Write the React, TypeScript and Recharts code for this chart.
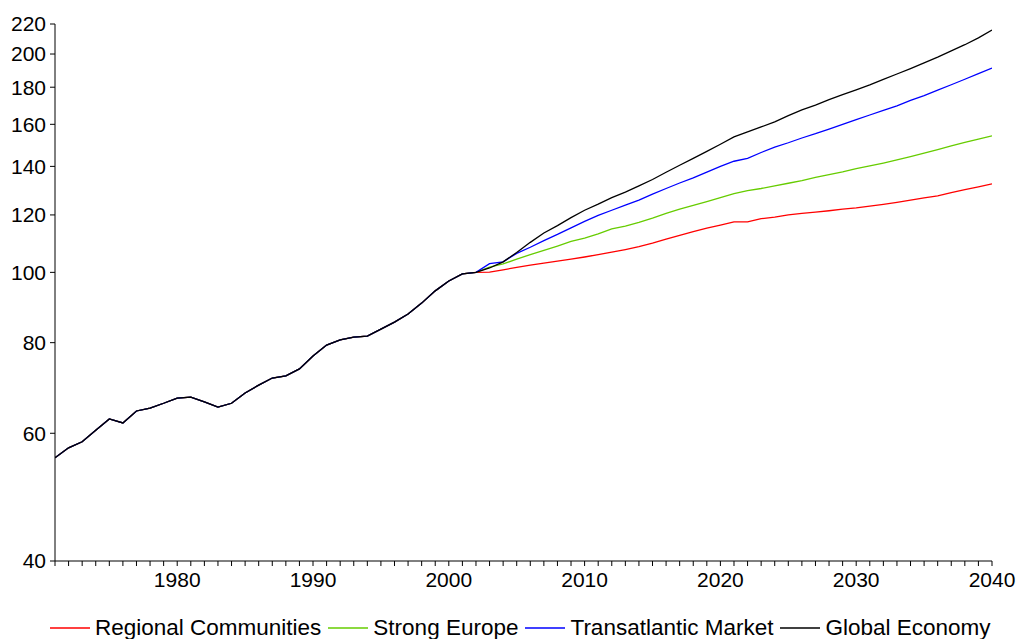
import { LineChart, Line, XAxis, YAxis } from "recharts";

// 1971-2002: common history, indexed 2002 = 100
const histYears = [
  1971, 1972, 1973, 1974, 1975, 1976, 1977, 1978, 1979, 1980, 1981, 1982, 1983, 1984, 1985, 1986,
  1987, 1988, 1989, 1990, 1991, 1992, 1993, 1994, 1995, 1996, 1997, 1998, 1999, 2000, 2001, 2002,
];
const history = [
  55.5, 57.3, 58.4, 60.6, 62.8, 62.0, 64.4, 65.0, 66.0, 67.1, 67.3, 66.3, 65.2, 66.0, 68.2, 69.9,
  71.5, 72.0, 73.6, 76.7, 79.4, 80.7, 81.4, 81.7, 83.5, 85.4, 87.6, 90.7, 94.3, 97.3, 99.5, 100,
];

// 2003-2040: scenarios
const projYears = [
  2003, 2004, 2005, 2006, 2007, 2008, 2009, 2010, 2011, 2012, 2013, 2014, 2015, 2016, 2017, 2018, 2019,
  2020, 2021, 2022, 2023, 2024, 2025, 2026, 2027, 2028, 2029, 2030, 2031, 2032, 2033, 2034, 2035, 2036,
  2037, 2038, 2039, 2040,
];
const regional = [
  100.1, 100.8, 101.6, 102.3, 103.0, 103.6, 104.3, 105.0, 105.8, 106.6, 107.5, 108.5, 109.7, 111.1,
  112.5, 113.8, 115.1, 116.2, 117.4, 117.4, 118.6, 119.2, 120.0, 120.6, 121.1, 121.6, 122.2, 122.7,
  123.4, 124.1, 124.9, 125.8, 126.7, 127.5, 128.8, 130.0, 131.2, 132.4,
];
const strongEurope = [
  101.7, 102.7, 104.3, 105.8, 107.2, 108.7, 110.3, 111.5, 113.0, 114.8, 115.8, 117.2, 118.8, 120.6,
  122.2, 123.7, 125.2, 126.8, 128.4, 129.6, 130.5, 131.6, 132.7, 133.8, 135.2, 136.4, 137.6, 139.0,
  140.2, 141.5, 142.9, 144.4, 146.0, 147.7, 149.4, 151.1, 152.7, 154.2,
];
const transatlantic = [
  102.8, 103.4, 106.2, 108.3, 110.6, 112.8, 115.2, 117.6, 119.8, 121.8, 123.8, 125.8, 128.2, 130.5,
  132.8, 135.0, 137.5, 140.0, 142.3, 143.6, 146.3, 148.8, 150.9, 153.2, 155.3, 157.6, 160.0, 162.4,
  164.8, 167.2, 169.7, 172.6, 175.3, 178.3, 181.4, 184.6, 187.9, 191.3,
];
const globalEconomy = [
  101.4, 103.4, 106.5, 110.0, 113.3, 116.0, 119.0, 121.8, 124.2, 126.8, 129.0, 131.6, 134.3, 137.4,
  140.5, 143.6, 146.8, 150.2, 153.7, 156.2, 158.7, 161.2, 164.5, 167.5, 170.0, 173.0, 175.8, 178.5,
  181.3, 184.5, 187.7, 191.0, 194.5, 198.1, 202.0, 206.0, 210.5, 215.8,
];

const yTicks = [40, 60, 80, 100, 120, 140, 160, 180, 200, 220];
const decadeLabels = [1980, 1990, 2000, 2010, 2020, 2030, 2040];

const series = [
  { key: "regional", name: "Regional Communities", color: "#ff0000" },
  { key: "strong", name: "Strong Europe", color: "#66cc00" },
  { key: "transatlantic", name: "Transatlantic Market", color: "#0000ff" },
  { key: "global", name: "Global Economy", color: "#000000" },
];

const data = [
  ...histYears.map((year, i) => ({
    year,
    regional: history[i],
    strong: history[i],
    transatlantic: history[i],
    global: history[i],
  })),
  ...projYears.map((year, i) => ({
    year,
    regional: regional[i],
    strong: strongEurope[i],
    transatlantic: transatlantic[i],
    global: globalEconomy[i],
  })),
];
const allYears = data.map((d) => d.year);

const FONT = "Arial, 'Liberation Sans', sans-serif";

function YearTick({ x, y, payload }: any) {
  if (!decadeLabels.includes(payload.value)) return <g />;
  return (
    <text x={x} y={y} dy={19} textAnchor="middle" fontSize={21} fontFamily={FONT} fill="#000">
      {payload.value}
    </text>
  );
}

export default function App() {
  return (
    <div style={{ position: "absolute", left: 0, top: 0, width: 1019, height: 639, background: "#fff" }}>
      <LineChart width={1019} height={639} data={data} margin={{ top: 24, right: 27, left: 0, bottom: 0 }}>
        <XAxis
          dataKey="year"
          type="number"
          domain={[1971, 2040]}
          ticks={allYears}
          interval={0}
          tick={<YearTick />}
          tickSize={5}
          height={78}
          stroke="#000"
          allowDataOverflow
        />
        <YAxis
          scale="log"
          domain={[40, 220]}
          ticks={yTicks}
          interval={0}
          width={55}
          tickSize={5}
          tickMargin={4}
          stroke="#000"
          tick={{ fontSize: 21, fontFamily: FONT, fill: "#000" }}
          allowDataOverflow
        />
        {series.map((s) => (
          <Line
            key={s.key}
            type="linear"
            dataKey={s.key}
            name={s.name}
            stroke={s.color}
            strokeWidth={1.3}
            dot={false}
            isAnimationActive={false}
          />
        ))}
      </LineChart>
      <div
        style={{
          position: "absolute",
          left: 50,
          top: 614,
          display: "flex",
          gap: 7,
          fontFamily: FONT,
          fontSize: 22.5,
          color: "#000",
          whiteSpace: "nowrap",
          lineHeight: "28px",
        }}
      >
        {series.map((s) => (
          <span key={s.key} style={{ display: "flex", alignItems: "center" }}>
            <svg width={40} height={4} style={{ marginRight: 5 }}>
              <line x1={0} y1={2} x2={40} y2={2} stroke={s.color} strokeWidth={1.5} />
            </svg>
            {s.name}
          </span>
        ))}
      </div>
    </div>
  );
}
